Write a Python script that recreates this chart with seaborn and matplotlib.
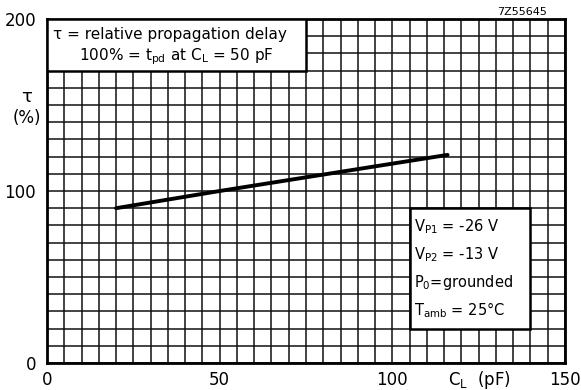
import numpy as np
import pandas as pd
import seaborn as sns
import matplotlib.pyplot as plt
from matplotlib.patches import Rectangle
from matplotlib.ticker import MultipleLocator

# values
cl_pf = [20, 50, 116]
tau_pct = [90, 100, 121]
x_ticks = [0, 50, 100, 150]
y_ticks = [0, 100, 200]

df = pd.DataFrame({"CL": cl_pf, "tau": tau_pct})

sns.set_style("white")
plt.rcParams['font.family'] = ['DejaVu Sans']
plt.rcParams['mathtext.default'] = 'regular'
plt.rcParams['text.color'] = 'black'
plt.rcParams['xtick.color'] = 'black'
plt.rcParams['ytick.color'] = 'black'

fig = plt.figure(figsize=(5.81, 3.90), dpi=100)
ax = fig.add_axes([47 / 581, 1 - 363 / 390, 518 / 581, 344 / 390])

sns.lineplot(data=df, x="CL", y="tau", color="black", linewidth=2.8, ax=ax, zorder=4)

ax.set_xlim(0, 150)
ax.set_ylim(0, 200)
ax.set_xticks(x_ticks)
ax.set_yticks(y_ticks)
ax.xaxis.set_minor_locator(MultipleLocator(5))
ax.yaxis.set_minor_locator(MultipleLocator(10))
ax.grid(which="both", color="#111111", linewidth=1.1)
ax.set_axisbelow(True)
ax.tick_params(which="both", length=0, labelsize=12)
ax.tick_params(axis="y", pad=8)
ax.tick_params(axis="x", pad=6)
ax.set_xticklabels(["0", "50", "100", "150"])
ax.set_xlabel("")
ax.set_ylabel("")
for s in ax.spines.values():
    s.set_color("black")
    s.set_linewidth(2.0)

# boxes over the grid
ax.add_patch(Rectangle((0, 170), 75, 30, facecolor="white", edgecolor="black", linewidth=1.8, zorder=5))
ax.add_patch(Rectangle((105, 20), 35, 70, facecolor="white", edgecolor="black", linewidth=1.8, zorder=5))

ax.text(1.8, 191, "τ = relative propagation delay", fontsize=11, zorder=6, va="center")
ax.text(37.5, 178, "100% = t$_{pd}$ at C$_L$ = 50 pF", fontsize=11, zorder=6, va="center", ha="center")

box_lines = ["V$_{P1}$ = -26 V", "V$_{P2}$ = -13 V", "P$_0$=grounded", "T$_{amb}$ = 25°C"]
for i, t in enumerate(box_lines):
    ax.text(106.3, 79 - i * 16, t, fontsize=10.5, zorder=6, va="center")

fig.text(27 / 581, 1 - 97 / 390, "τ", fontsize=13, ha="center", va="center")
fig.text(27 / 581, 1 - 118 / 390, "(%)", fontsize=12, ha="center", va="center")
fig.text(480 / 581, 1 - 380 / 390, "C$_L$  (pF)", fontsize=12, ha="center", va="center")
fig.text(522 / 581, 1 - 12 / 390, "7Z55645", fontsize=8, ha="center", va="center")

fig.savefig("out.png", dpi=100)
